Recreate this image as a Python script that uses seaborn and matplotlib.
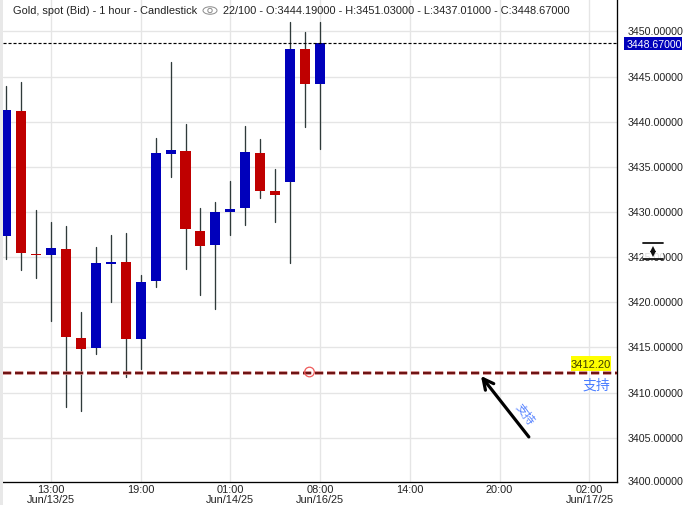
import matplotlib
matplotlib.use("Agg")
import matplotlib.pyplot as plt
import numpy as np
import pandas as pd
import seaborn as sns
from matplotlib.patches import Ellipse, Rectangle, Circle
from matplotlib.transforms import ScaledTranslation

# candle values
opens = [3427.34, 3441.16, 3425.40, 3425.23, 3425.87, 3416.10, 3414.92, 3424.24, 3424.42, 3415.92, 3422.35,
         3436.40, 3436.73, 3427.86, 3426.31, 3429.97, 3430.41, 3436.51, 3432.30, 3433.29, 3448.04, 3444.19]
closes = [3441.27, 3425.45, 3425.25, 3425.98, 3416.14, 3414.81, 3424.31, 3424.42, 3415.92, 3422.21, 3436.51,
          3436.84, 3428.08, 3426.20, 3429.97, 3430.30, 3436.62, 3432.30, 3431.85, 3448.04, 3444.16, 3448.67]
highs = [3443.94, 3444.35, 3430.19, 3428.86, 3428.41, 3418.88, 3426.09, 3427.42, 3427.64, 3422.98, 3438.17,
         3446.60, 3439.72, 3430.41, 3431.08, 3433.40, 3439.50, 3438.06, 3434.73, 3451.03, 3449.92, 3451.03]
lows = [3424.79, 3423.57, 3422.68, 3417.92, 3408.38, 3407.94, 3414.26, 3420.02, 3411.71, 3412.59, 3421.69,
        3433.88, 3423.65, 3420.80, 3419.25, 3427.42, 3428.53, 3431.52, 3428.86, 3424.31, 3439.39, 3437.01]

time_pos = [3, 9, 15, 21, 27, 33, 39]
time_labels = ["13:00\nJun/13/25", "19:00", "01:00\nJun/14/25", "08:00\nJun/16/25",
               "14:00", "20:00", "02:00\nJun/17/25"]
price_ticks = [3405, 3410, 3415, 3420, 3425, 3430, 3435, 3440, 3445, 3450]

last_price = 3448.67
support = 3412.20

UP = "#0000bb"
DOWN = "#bf0000"
W, H = 686, 506

sns.set_style("white")
plt.rcParams["font.family"] = ["Liberation Sans", "Noto Sans CJK SC", "DejaVu Sans"]
plt.rcParams["lines.scale_dashes"] = False

fig = plt.figure(figsize=(W / 100, H / 100), dpi=100)
ax = fig.add_axes([3 / W, 1 - 483 / H, 614.4 / W, 483 / H])

df = pd.DataFrame({"idx": range(len(opens)), "open": opens, "close": closes, "high": highs, "low": lows})
df["body"] = (df["close"] - df["open"]).abs()
df["base"] = df[["open", "close"]].min(axis=1)

# wicks
wicks = df.melt(id_vars="idx", value_vars=["high", "low"], value_name="price")
sns.lineplot(data=wicks, x="idx", y="price", units="idx", estimator=None, color="#2f3a3a",
             linewidth=0.95, legend=False, ax=ax, zorder=3)

# bodies, one bar per candle on the numeric axis
sns.barplot(data=df, x="idx", y="body", bottom=df["base"].values, native_scale=True, width=0.67,
            color=UP, saturation=1, linewidth=0, errorbar=None, ax=ax, zorder=4)
for bar, o, c in zip(ax.patches, opens, closes):
    bar.set_facecolor(UP if c >= o else DOWN)

ax.set_xlim(-0.2, 40.87)
ax.set_ylim(3400.11, 3453.58)
ax.set_xticks(time_pos, time_labels)
ax.set_yticks(price_ticks, [f"{p:.5f}" for p in price_ticks])
ax.yaxis.tick_right()
ax.tick_params(axis="y", length=0, pad=7.7, labelsize=7.7, labelcolor="#222222")
ax.tick_params(axis="x", length=0, pad=1.7, labelsize=7.9, labelcolor="#222222")
for t in ax.get_xticklabels():
    t.set_linespacing(0.95)
# price labels sit a pixel above their grid lines
up_1px = ScaledTranslation(0, 1 / 100, fig.dpi_scale_trans)
for t in ax.get_yticklabels():
    t.set_transform(t.get_transform() + up_1px)
ax.set_xlabel("")
ax.set_ylabel("")
ax.set_axisbelow(True)
ax.grid(True, color="#e5e5e5", linewidth=0.95)
ax.spines["top"].set_visible(False)
ax.spines["left"].set_visible(False)
ax.spines["right"].set_color("black")
ax.spines["bottom"].set_color("black")
ax.spines["right"].set_linewidth(0.95)
ax.spines["bottom"].set_linewidth(0.95)

# last price and support lines
ax.axhline(last_price, color="black", linewidth=0.85, linestyle=(0, (2.2, 1.4)), zorder=5)
ax.axhline(support, color="#d98f8f", linewidth=2.6, dash_capstyle="butt", linestyle=(0, (5.9, 2.74)), zorder=5)
ax.axhline(support, color="#6e1414", linewidth=1.6, dash_capstyle="butt", linestyle=(0, (5.9, 2.74)), zorder=6)

ax.annotate("", xy=(31.75, 3411.85), xytext=(34.95, 3405.1),
            arrowprops=dict(arrowstyle="->,head_length=0.75,head_width=0.38", color="black", lw=2.3,
                            shrinkA=0, shrinkB=0), zorder=7)
ax.text(34.6, 3407.65, "支持", rotation=-52, color="#5b86ff", fontsize=8.6, ha="center", va="center",
        rotation_mode="anchor", zorder=7)

# overlay in pixels for the header, price tags and widgets
ov = fig.add_axes([0, 0, 1, 1], facecolor="none")
ov.set_xlim(0, W)
ov.set_ylim(H, 0)
ov.axis("off")

ov.add_patch(Rectangle((0, 0), 3, H, color="#e8e8e8", lw=0))
ov.text(13, 10.5, "Gold, spot (Bid) - 1 hour - Candlestick", fontsize=7.9, color="#222222", va="center")
ov.text(223, 10.5, "22/100 - O:3444.19000 - H:3451.03000 - L:3437.01000 - C:3448.67000", fontsize=7.9,
        color="#222222", va="center")
ov.add_patch(Ellipse((210, 11.5), 14, 7.5, fill=False, ec="#8a8a8a", lw=0.7))
ov.add_patch(Circle((210, 11.5), 2.2, fill=False, ec="#8a8a8a", lw=0.7))

ov.text(628, 481.7, "3400.00000", fontsize=7.7, color="#222222", va="center")

ov.add_patch(Rectangle((624, 37.7), 58, 13, color=UP, lw=0))
ov.text(627, 44.5, f"{last_price:.5f}", fontsize=7.6, color="white", va="center")

ov.add_patch(Rectangle((571, 357), 40, 15, color="#ffff00", lw=0))
ov.text(591, 364.5, f"{support:.2f}", fontsize=8, color="#3d3d00", va="center", ha="center")
ov.text(596, 386, "支持", fontsize=10, color="#4a7dff", va="center", ha="center")
ov.add_patch(Circle((309.5, 373), 4.8, fill=False, ec="#ef5a5a", lw=0.9))

# scale handle over the 3425 label
ov.add_patch(Rectangle((643, 245), 20, 15, color="white", alpha=0.85, lw=0))
ov.plot([643, 663], [244.3, 244.3], color="#111111", lw=1.3)
ov.plot([643, 663], [260, 260], color="#111111", lw=1.3)
ov.plot([653], [250], marker="^", ms=4.6, color="#111111", mew=0)
ov.plot([653], [254.5], marker="v", ms=4.6, color="#111111", mew=0)

fig.savefig("out.png", dpi=100)
